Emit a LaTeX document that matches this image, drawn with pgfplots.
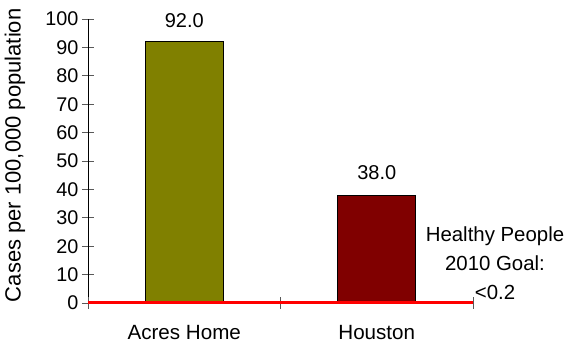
\documentclass[border=0pt]{standalone}
\usepackage{fontspec}
\setmainfont{Liberation Sans}
\usepackage{pgfplots}
\pgfplotsset{compat=1.18}
\definecolor{olivebar}{HTML}{808000}
\definecolor{maroonbar}{HTML}{800000}
\begin{document}
\begin{tikzpicture}
\begin{axis}[
  at={(0,0)}, anchor=south west,
  scale only axis, width=385pt, height=284pt,
  xmin=-0.5, xmax=1.5, ymin=0, ymax=100,
  clip=false,
  axis x line=bottom, axis y line=left,
  axis line style={-, black, line width=0.8pt},
  x axis line style={draw=none},
  tick align=center,
  major tick length=12pt,
  ytick={0,10,...,100},
  y tick style={gray!70!black, line width=0.8pt},
  xtick={0,1}, xticklabels={Acres Home, Houston},
  x tick style={draw=none},
  extra x ticks={-0.5,0.5,1.5}, extra x tick labels={},
  extra x tick style={x tick style={draw=gray!70!black, line width=0.8pt}},
  yticklabel style={font=\fontsize{19.8}{22}\selectfont},
  xticklabel style={font=\fontsize{20.6}{24}\selectfont, yshift=-13pt},
  /pgf/number format/assume math mode=true,
  ylabel={Cases per 100,000 population},
  ylabel style={font=\fontsize{22}{26}\selectfont, at={(axis description cs:-0.1896,0.52)}, anchor=center},
]
\addplot[ybar, bar width=78pt, bar shift=0pt, fill=olivebar, draw=black, line width=0.8pt,
  nodes near coords={\pgfmathprintnumber[fixed,fixed zerofill,precision=1]{\pgfplotspointmeta}},
  nodes near coords style={font=\fontsize{20}{24}\selectfont, yshift=10pt, black}]
  coordinates {(0,92)};
\addplot[ybar, bar width=78pt, bar shift=0pt, fill=maroonbar, draw=black, line width=0.8pt,
  nodes near coords={\pgfmathprintnumber[fixed,fixed zerofill,precision=1]{\pgfplotspointmeta}},
  nodes near coords style={font=\fontsize{20}{24}\selectfont, yshift=12pt, black}]
  coordinates {(1,38)};
\addplot[red, line width=3pt, no marks] coordinates {(-0.5,0.2) (1.5,0.2)};
\end{axis}
\node[align=center, font=\fontsize{20.4}{29}\selectfont] at (407pt,40pt) {Healthy People\\2010 Goal:\\<0.2};
\pgfresetboundingbox
\useasboundingbox (-88pt,-47pt) rectangle (478pt,303pt);
\end{tikzpicture}
\end{document}
